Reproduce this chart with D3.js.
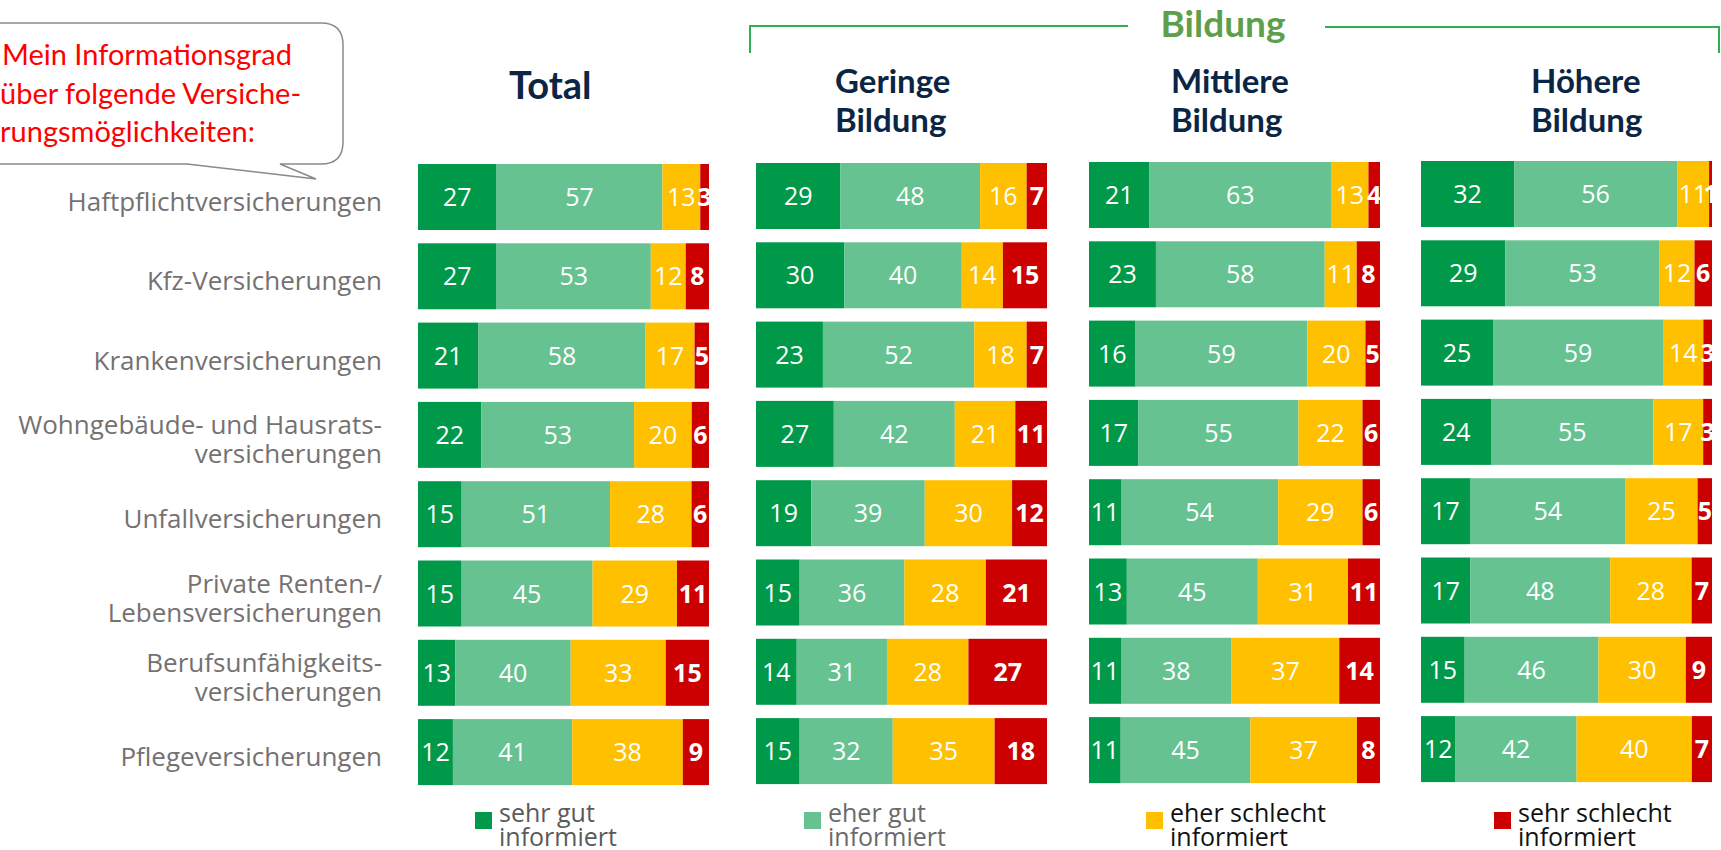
<!DOCTYPE html>
<html><head><meta charset="utf-8">
<script src="https://cdn.jsdelivr.net/npm/d3@7"></script>
<style>
html,body{margin:0;padding:0;background:#fff;overflow:hidden}
svg{display:block;font-family:"Open Sans",Lato,sans-serif}
</style></head>
<body><svg id="c" width="1721" height="850"></svg>
<script>
// ---------- data ----------
const categories = [
  "Haftpflichtversicherungen",
  "Kfz-Versicherungen",
  "Krankenversicherungen",
  "Wohngebäude- und Hausrats-|versicherungen",
  "Unfallversicherungen",
  "Private Renten-/|Lebensversicherungen",
  "Berufsunfähigkeits-|versicherungen",
  "Pflegeversicherungen"
];
const seriesNames = ["sehr gut informiert","eher gut informiert","eher schlecht informiert","sehr schlecht informiert"];
const panelTitles = ["Total","Geringe|Bildung","Mittlere|Bildung","Höhere|Bildung"];
const groupTitle = "Bildung";
const bubbleLines = ["Mein Informationsgrad","über folgende Versiche-","rungsmöglichkeiten:"];

const totalSehrGut      = [27,27,21,22,15,15,13,12];
const totalEherGut      = [57,53,58,53,51,45,40,41];
const totalEherSchlecht = [13,12,17,20,28,29,33,38];
const totalSehrSchlecht = [3,8,5,6,6,11,15,9];

const geringeSehrGut      = [29,30,23,27,19,15,14,15];
const geringeEherGut      = [48,40,52,42,39,36,31,32];
const geringeEherSchlecht = [16,14,18,21,30,28,28,35];
const geringeSehrSchlecht = [7,15,7,11,12,21,27,18];

const mittlereSehrGut      = [21,23,16,17,11,13,11,11];
const mittlereEherGut      = [63,58,59,55,54,45,38,45];
const mittlereEherSchlecht = [13,11,20,22,29,31,37,37];
const mittlereSehrSchlecht = [4,8,5,6,6,11,14,8];

const hoehereSehrGut      = [32,29,25,24,17,17,15,12];
const hoehereEherGut      = [56,53,59,55,54,48,46,42];
const hoehereEherSchlecht = [11,12,14,17,25,28,30,40];
const hoehereSehrSchlecht = [1,6,3,3,5,7,9,7];

const panelData = [
  [totalSehrGut,totalEherGut,totalEherSchlecht,totalSehrSchlecht],
  [geringeSehrGut,geringeEherGut,geringeEherSchlecht,geringeSehrSchlecht],
  [mittlereSehrGut,mittlereEherGut,mittlereEherSchlecht,mittlereSehrSchlecht],
  [hoehereSehrGut,hoehereEherGut,hoehereEherSchlecht,hoehereSehrSchlecht]
];

// ---------- styles / layout ----------
const colors = ["#00994a","#66c291","#ffc000","#cc0000"];
const legendText = ["#5a5a5a","#6a6a6a","#111111","#111111"];
const panelX = [418,756,1089,1421];
const panelYTop = [164,163,162,161];
const barW = 291, barH = 66, rowStep = 79.3;

const svg = d3.select("#c");

// speech bubble
const bx0=-30, bx1=343, by0=23, by1=164, r=22;
const bubblePath = `M${bx0},${by0} L${bx1-r},${by0} Q${bx1},${by0} ${bx1},${by0+r} L${bx1},${by1-r} Q${bx1},${by1} ${bx1-r},${by1} L280,${by1} L316,179 L187,${by1} L${bx0},${by1} Z`;
svg.append("path").attr("d",bubblePath).attr("fill","#fff").attr("stroke","#8a8a8a").attr("stroke-width",1.5);
svg.append("g").selectAll("text").data(bubbleLines).join("text")
  .attr("x",(d,i)=>i===0?2:0).attr("y",(d,i)=>65+i*38.5)
  .attr("fill","#ff0000").attr("font-family","Lato,sans-serif").attr("font-size",29).text(d=>d);

// group header
svg.append("path").attr("d","M750,53 L750,26 L1128,26").attr("fill","none").attr("stroke","#2fae52").attr("stroke-width",2);
svg.append("path").attr("d","M1325,27 L1719,27 L1719,53").attr("fill","none").attr("stroke","#2fae52").attr("stroke-width",2);
svg.append("text").attr("x",1223).attr("y",37).attr("text-anchor","middle").attr("font-family","Lato,sans-serif")
  .attr("font-size",37).attr("font-weight",700).attr("fill","#5e9f4c").text(groupTitle);

// category labels
const yBand0 = d3.scaleBand().domain(categories).range([panelYTop[0], panelYTop[0]+7*rowStep+barH]).paddingInner(1-barH/rowStep).paddingOuter(0);
const catG = svg.append("g");
categories.forEach(c=>{
  const lines=c.split("|");
  const cy=yBand0(c)+yBand0.bandwidth()/2;
  const t=catG.append("text").attr("text-anchor","end").attr("font-size",26).attr("fill","#757171");
  lines.forEach((l,i)=>{
    t.append("tspan").attr("x",382).attr("y",cy+14+(i-(lines.length-1)/2)*29).text(l);
  });
});

// panels
const headerX = [509,835,1171,1531];
panelData.forEach((series,p)=>{
  const g = svg.append("g");
  const y = d3.scaleBand().domain(categories).range([panelYTop[p], panelYTop[p]+7*rowStep+barH]).paddingInner(1-barH/rowStep).paddingOuter(0);
  // title
  const tl = panelTitles[p].split("|");
  const tt = g.append("text").attr("font-family","Lato,sans-serif").attr("font-weight",700).attr("fill","#0b2545").attr("font-size",p===0?38:33);
  tl.forEach((l,i)=>{
    tt.append("tspan").attr("x",headerX[p]).attr("y",p===0?99:93+i*39).text(l);
  });
  categories.forEach((c,ci)=>{
    const vals = series.map(s=>s[ci]);
    const sum = d3.sum(vals);
    const x = d3.scaleLinear().domain([0,sum]).range([panelX[p],panelX[p]+barW]);
    let acc=0;
    vals.forEach((v,si)=>{
      const x0=x(acc), x1=x(acc+v); acc+=v;
      g.append("rect").attr("x",x0).attr("y",y(c)).attr("width",x1-x0).attr("height",y.bandwidth()).attr("fill",colors[si]);
      g.append("text").attr("x",(x0+x1)/2).attr("y",y(c)+y.bandwidth()/2+9)
        .attr("text-anchor","middle").attr("fill","#fff").attr("font-size",25)
        .attr("font-weight",si===3?700:400).text(v);
    });
  });
});

// legend
const legX = [475,804,1146,1494];
const lg = svg.append("g");
seriesNames.forEach((n,i)=>{
  lg.append("rect").attr("x",legX[i]).attr("y",812).attr("width",17).attr("height",17).attr("fill",colors[i]);
  const parts = n.split(" ");
  const l1 = parts.slice(0,2).join(" "), l2 = parts.slice(2).join(" ");
  const t = lg.append("text").attr("font-size",25).attr("fill",legendText[i]);
  t.append("tspan").attr("x",legX[i]+24).attr("y",822).text(l1);
  t.append("tspan").attr("x",legX[i]+24).attr("y",846).text(l2);
});
</script></body></html>
